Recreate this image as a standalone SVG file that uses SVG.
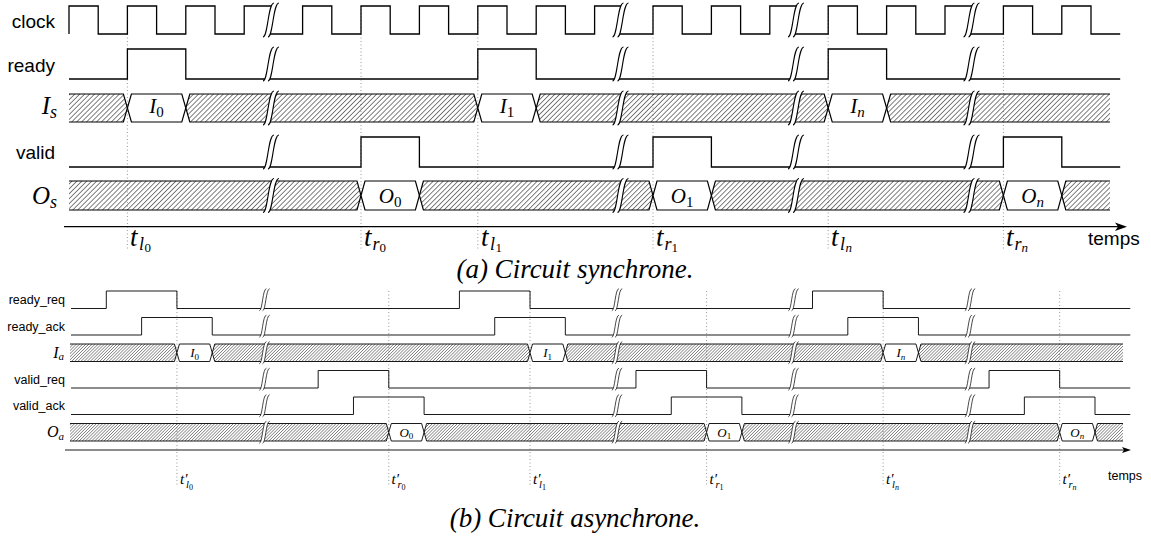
<svg xmlns="http://www.w3.org/2000/svg" xmlns:xlink="http://www.w3.org/1999/xlink" width="1151" height="545" viewBox="0 0 1151 545">
<defs>
<style>
.sig{fill:none;stroke:#000;stroke-width:1.3}
.sigb{fill:none;stroke:#000;stroke-width:0.9}
.hA{fill:url(#hatA);stroke:#000;stroke-width:1.2}
.dA{fill:#fff;stroke:#000;stroke-width:1.2}
.hB{fill:url(#hatB);stroke:#000;stroke-width:0.9}
.dB{fill:#fff;stroke:#000;stroke-width:0.9}
.dot{stroke:#8c8c8c;stroke-width:0.9;stroke-dasharray:1 2.5;fill:none}
.ax{stroke:#000;fill:none}
.lbA{font-family:"Liberation Sans",Arial,sans-serif;font-size:19px}
.lbB{font-family:"Liberation Sans",Arial,sans-serif;font-size:12.5px}
.m{font-family:"Liberation Serif","DejaVu Serif",serif;font-style:italic}
.up{font-style:normal}
.rnA{font-size:25px}.rsA{font-size:18px}
.dlA{font-size:21px}.dsA{font-size:15px}
.tA{font-size:27px}.s1{font-size:18px}.s2{font-size:13px}
.rnB{font-size:16px}.rsB{font-size:11px}
.dlB{font-size:13px}.dsB{font-size:9px}
.tB{font-size:15px}.s1b{font-size:10.5px}.s2b{font-size:8px}
.cap{font-family:"Liberation Serif","Times New Roman",serif;font-style:italic;font-size:27px}
</style>
<pattern id="hatA" width="3.5" height="3.5" patternUnits="userSpaceOnUse" patternTransform="rotate(45)"><line x1="0" y1="0" x2="0" y2="3.5" stroke="#000" stroke-width="1"/></pattern>
<pattern id="hatB" width="2.2" height="2.2" patternUnits="userSpaceOnUse" patternTransform="rotate(45)"><line x1="0" y1="0" x2="0" y2="2.2" stroke="#000" stroke-width="0.75"/></pattern>
<g id="brk">
<path d="M-8,17 C-3,17 -3,-17 3,-17 L8,-17 C2,-17 2,17 -3,17 Z" fill="#fff"/>
<path d="M-8,17 C-3,17 -3,-17 3,-17 M-3,17 C2,17 2,-17 8,-17" fill="none" stroke="#000" stroke-width="1.1"/>
</g>
<marker id="arrA" markerWidth="14" markerHeight="10" refX="8" refY="5" orient="auto" markerUnits="userSpaceOnUse"><path d="M0,0.8 L12,5 L0,9.2 L3,5 Z" fill="#000"/></marker>
<marker id="arrB" markerWidth="10" markerHeight="7" refX="6" refY="3.5" orient="auto" markerUnits="userSpaceOnUse"><path d="M0,0.6 L9,3.5 L0,6.4 L2,3.5 Z" fill="#000"/></marker>
</defs>
<rect width="1151" height="545" fill="#fff"/>

<g id="connectors">
<g id="guidesA" class="dot">
<path d="M127.4,6V250M361,6V250M477.8,6V250M653,6V250M828.2,6V250M1003.4,6V250"/>
</g>
<g id="guidesB" class="dot">
<path d="M176.93,291V486M388.79,291V486M530.03,291V486M706.58,291V486M883.13,291V486M1059.68,291V486"/>
</g>
<g id="axisA"><path class="ax" stroke-width="1.3" d="M64,226.7H1123" marker-end="url(#arrA)"/></g>
<g id="axisB"><path class="ax" stroke-width="0.9" d="M65,450H1128" marker-end="url(#arrB)"/></g>
</g>

<!-- Part (a) -->
<g id="clock">
<text class="lbA" x="55" y="27.5" text-anchor="end">clock</text>
<path class="sig" d="M69,34V6H98.2V34H127.4V6H156.6V34H185.8V6H215V34H244.2V6H274M268,34H302.6V6H331.8V34H361V6H390.2V34H419.4V6H448.6V34H477.8V6H507V34H536.2V6H565.4V34H594.6V6H623.5M617.5,34H653V6H682.2V34H711.4V6H740.6V34H769.8V6H799M793,34H828.2V6H857.4V34H886.6V6H915.8V34H945V6H974.5M968.5,34H1003.4V6H1032.6V34H1061.8V6H1091V34H1120.2"/>
</g>
<g id="ready">
<text class="lbA" x="55" y="71.5" text-anchor="end">ready</text>
<path class="sig" d="M69,79H127.4V49H185.8V79H477.8V49H536.2V79H828.2V49H886.6V79H1120.2"/>
</g>
<g id="Is">
<text class="m rnA" x="57" y="114" text-anchor="end">I<tspan class="rsA" dy="4">s</tspan></text>
<path class="hA" d="M69,94H123.4L127.4,108L123.4,122H69"/>
<path class="dA" d="M127.4,108L131.4,94H181.8L185.8,108L181.8,122H131.4Z"/>
<path class="hA" d="M185.8,108L189.8,94H473.8L477.8,108L473.8,122H189.8Z"/>
<path class="dA" d="M477.8,108L481.8,94H532.2L536.2,108L532.2,122H481.8Z"/>
<path class="hA" d="M536.2,108L540.2,94H824.2L828.2,108L824.2,122H540.2Z"/>
<path class="dA" d="M828.2,108L832.2,94H882.6L886.6,108L882.6,122H832.2Z"/>
<path class="hA" d="M1110,94H890.6L886.6,108L890.6,122H1110"/>
<text class="m dlA" x="156.6" y="113" text-anchor="middle">I<tspan class="dsA up" dy="4">0</tspan></text>
<text class="m dlA" x="507" y="113" text-anchor="middle">I<tspan class="dsA up" dy="4">1</tspan></text>
<text class="m dlA" x="857.4" y="113" text-anchor="middle">I<tspan class="dsA" dy="4">n</tspan></text>
</g>
<g id="valid">
<text class="lbA" x="55" y="159" text-anchor="end">valid</text>
<path class="sig" d="M69,167H361V137H419.4V167H653V137H711.4V167H1003.4V137H1061.8V167H1120.2"/>
</g>
<g id="Os">
<text class="m rnA" x="57" y="204" text-anchor="end">O<tspan class="rsA" dy="4">s</tspan></text>
<path class="hA" d="M69,181H357L361,195.5L357,210H69"/>
<path class="dA" d="M361,195.5L365,181H415.4L419.4,195.5L415.4,210H365Z"/>
<path class="hA" d="M419.4,195.5L423.4,181H649L653,195.5L649,210H423.4Z"/>
<path class="dA" d="M653,195.5L657,181H707.4L711.4,195.5L707.4,210H657Z"/>
<path class="hA" d="M711.4,195.5L715.4,181H999.4L1003.4,195.5L999.4,210H715.4Z"/>
<path class="dA" d="M1003.4,195.5L1007.4,181H1057.8L1061.8,195.5L1057.8,210H1007.4Z"/>
<path class="hA" d="M1110,181H1065.8L1061.8,195.5L1065.8,210H1110"/>
<text class="m dlA" x="390.2" y="203" text-anchor="middle">O<tspan class="dsA up" dy="4">0</tspan></text>
<text class="m dlA" x="682.2" y="203" text-anchor="middle">O<tspan class="dsA up" dy="4">1</tspan></text>
<text class="m dlA" x="1032.6" y="203" text-anchor="middle">O<tspan class="dsA" dy="4">n</tspan></text>
</g>
<g id="breaksA">
<use xlink:href="#brk" transform="translate(271,20)"/><use xlink:href="#brk" transform="translate(271,64)"/><use xlink:href="#brk" transform="translate(271,108)"/><use xlink:href="#brk" transform="translate(271,152)"/><use xlink:href="#brk" transform="translate(271,195.5)"/>
<use xlink:href="#brk" transform="translate(620.5,20)"/><use xlink:href="#brk" transform="translate(620.5,64)"/><use xlink:href="#brk" transform="translate(620.5,108)"/><use xlink:href="#brk" transform="translate(620.5,152)"/><use xlink:href="#brk" transform="translate(620.5,195.5)"/>
<use xlink:href="#brk" transform="translate(796,20)"/><use xlink:href="#brk" transform="translate(796,64)"/><use xlink:href="#brk" transform="translate(796,108)"/><use xlink:href="#brk" transform="translate(796,152)"/><use xlink:href="#brk" transform="translate(796,195.5)"/>
<use xlink:href="#brk" transform="translate(971.5,20)"/><use xlink:href="#brk" transform="translate(971.5,64)"/><use xlink:href="#brk" transform="translate(971.5,108)"/><use xlink:href="#brk" transform="translate(971.5,152)"/><use xlink:href="#brk" transform="translate(971.5,195.5)"/>
</g>
<g id="timesA">
<text class="m tA" x="130" y="246">t<tspan class="s1" dx="1.5" dy="3.5">l</tspan><tspan class="s2 up" dx="0.5" dy="2.5">0</tspan></text>
<text class="m tA" x="364" y="246">t<tspan class="s1" dx="1" dy="3.5">r</tspan><tspan class="s2 up" dy="2.5">0</tspan></text>
<text class="m tA" x="481" y="246">t<tspan class="s1" dx="1.5" dy="3.5">l</tspan><tspan class="s2 up" dx="0.5" dy="2.5">1</tspan></text>
<text class="m tA" x="656" y="246">t<tspan class="s1" dx="1" dy="3.5">r</tspan><tspan class="s2 up" dy="2.5">1</tspan></text>
<text class="m tA" x="831" y="246">t<tspan class="s1" dx="1.5" dy="3.5">l</tspan><tspan class="s2" dx="0.5" dy="2.5">n</tspan></text>
<text class="m tA" x="1006" y="246">t<tspan class="s1" dx="1" dy="3.5">r</tspan><tspan class="s2" dy="2.5">n</tspan></text>
<text class="lbA" x="1088" y="245">temps</text>
</g>
<text class="cap" x="575" y="278" text-anchor="middle">(a) Circuit synchrone.</text>

<!-- Part (b) -->
<g id="ready_req">
<text class="lbB" x="65" y="304.3" text-anchor="end">ready_req</text>
<path class="sigb" d="M71,308.5H106.31V291H176.93V308.5H459.41V291H530.03V308.5H812.51V291H883.13V308.5H1130.3"/>
</g>
<g id="ready_ack">
<text class="lbB" x="65" y="330.8" text-anchor="end">ready_ack</text>
<path class="sigb" d="M71,335H141.62V317.5H212.24V335H494.72V317.5H565.34V335H847.82V317.5H918.44V335H1130.3"/>
</g>
<g id="Ia">
<text class="m rnB" x="64" y="357.8" text-anchor="end">I<tspan class="rsB" dy="2.5">a</tspan></text>
<path class="hB" d="M70,344H174.43L176.93,352.75L174.43,361.5H70"/>
<path class="dB" d="M176.93,352.75L179.43,344H209.74L212.24,352.75L209.74,361.5H179.43Z"/>
<path class="hB" d="M212.24,352.75L214.74,344H527.53L530.03,352.75L527.53,361.5H214.74Z"/>
<path class="dB" d="M530.03,352.75L532.53,344H562.84L565.34,352.75L562.84,361.5H532.53Z"/>
<path class="hB" d="M565.34,352.75L567.84,344H880.63L883.13,352.75L880.63,361.5H567.84Z"/>
<path class="dB" d="M883.13,352.75L885.63,344H915.94L918.44,352.75L915.94,361.5H885.63Z"/>
<path class="hB" d="M1123,344H920.94L918.44,352.75L920.94,361.5H1123"/>
<text class="m dlB" x="194.6" y="357" text-anchor="middle">I<tspan class="dsB up" dy="2.5">0</tspan></text>
<text class="m dlB" x="547.7" y="357" text-anchor="middle">I<tspan class="dsB up" dy="2.5">1</tspan></text>
<text class="m dlB" x="900.8" y="357" text-anchor="middle">I<tspan class="dsB" dy="2.5">n</tspan></text>
</g>
<g id="valid_req">
<text class="lbB" x="65" y="383.8" text-anchor="end">valid_req</text>
<path class="sigb" d="M71,388H318.17V370.5H388.79V388H635.96V370.5H706.58V388H989.06V370.5H1059.68V388H1130.3"/>
</g>
<g id="valid_ack">
<text class="lbB" x="65" y="410.3" text-anchor="end">valid_ack</text>
<path class="sigb" d="M71,414.5H353.48V397H424.1V414.5H671.27V397H741.89V414.5H1024.37V397H1094.99V414.5H1130.3"/>
</g>
<g id="Oa">
<text class="m rnB" x="64" y="437.3" text-anchor="end">O<tspan class="rsB" dy="2.5">a</tspan></text>
<path class="hB" d="M70,423.5H386.29L388.79,432.25L386.29,441H70"/>
<path class="dB" d="M388.79,432.25L391.29,423.5H421.6L424.1,432.25L421.6,441H391.29Z"/>
<path class="hB" d="M424.1,432.25L426.6,423.5H704.08L706.58,432.25L704.08,441H426.6Z"/>
<path class="dB" d="M706.58,432.25L709.08,423.5H739.39L741.89,432.25L739.39,441H709.08Z"/>
<path class="hB" d="M741.89,432.25L744.39,423.5H1057.18L1059.68,432.25L1057.18,441H744.39Z"/>
<path class="dB" d="M1059.68,432.25L1062.18,423.5H1092.49L1094.99,432.25L1092.49,441H1062.18Z"/>
<path class="hB" d="M1123,423.5H1097.49L1094.99,432.25L1097.49,441H1123"/>
<text class="m dlB" x="406.4" y="436.5" text-anchor="middle">O<tspan class="dsB up" dy="2.5">0</tspan></text>
<text class="m dlB" x="724.2" y="436.5" text-anchor="middle">O<tspan class="dsB up" dy="2.5">1</tspan></text>
<text class="m dlB" x="1077.3" y="436.5" text-anchor="middle">O<tspan class="dsB" dy="2.5">n</tspan></text>
</g>
<g id="breaksB">
<use xlink:href="#brk" transform="translate(264.5,299.75) scale(0.65)"/><use xlink:href="#brk" transform="translate(264.5,326.25) scale(0.65)"/><use xlink:href="#brk" transform="translate(264.5,352.75) scale(0.65)"/><use xlink:href="#brk" transform="translate(264.5,379.25) scale(0.65)"/><use xlink:href="#brk" transform="translate(264.5,405.75) scale(0.65)"/><use xlink:href="#brk" transform="translate(264.5,432.25) scale(0.65)"/>
<use xlink:href="#brk" transform="translate(617,299.75) scale(0.65)"/><use xlink:href="#brk" transform="translate(617,326.25) scale(0.65)"/><use xlink:href="#brk" transform="translate(617,352.75) scale(0.65)"/><use xlink:href="#brk" transform="translate(617,379.25) scale(0.65)"/><use xlink:href="#brk" transform="translate(617,405.75) scale(0.65)"/><use xlink:href="#brk" transform="translate(617,432.25) scale(0.65)"/>
<use xlink:href="#brk" transform="translate(793.5,299.75) scale(0.65)"/><use xlink:href="#brk" transform="translate(793.5,326.25) scale(0.65)"/><use xlink:href="#brk" transform="translate(793.5,352.75) scale(0.65)"/><use xlink:href="#brk" transform="translate(793.5,379.25) scale(0.65)"/><use xlink:href="#brk" transform="translate(793.5,405.75) scale(0.65)"/><use xlink:href="#brk" transform="translate(793.5,432.25) scale(0.65)"/>
<use xlink:href="#brk" transform="translate(970,299.75) scale(0.65)"/><use xlink:href="#brk" transform="translate(970,326.25) scale(0.65)"/><use xlink:href="#brk" transform="translate(970,352.75) scale(0.65)"/><use xlink:href="#brk" transform="translate(970,379.25) scale(0.65)"/><use xlink:href="#brk" transform="translate(970,405.75) scale(0.65)"/><use xlink:href="#brk" transform="translate(970,432.25) scale(0.65)"/>
</g>
<g id="timesB">
<text class="m tB" x="180" y="484">t<tspan>′</tspan><tspan class="s1b" dx="-1.5" dy="3.5">l</tspan><tspan class="s2b up" dy="2">0</tspan></text>
<text class="m tB" x="391.5" y="484">t<tspan>′</tspan><tspan class="s1b" dx="-1.5" dy="3.5">r</tspan><tspan class="s2b up" dy="2">0</tspan></text>
<text class="m tB" x="533" y="484">t<tspan>′</tspan><tspan class="s1b" dx="-1.5" dy="3.5">l</tspan><tspan class="s2b up" dy="2">1</tspan></text>
<text class="m tB" x="709.5" y="484">t<tspan>′</tspan><tspan class="s1b" dx="-1.5" dy="3.5">r</tspan><tspan class="s2b up" dy="2">1</tspan></text>
<text class="m tB" x="886" y="484">t<tspan>′</tspan><tspan class="s1b" dx="-1.5" dy="3.5">l</tspan><tspan class="s2b" dy="2">n</tspan></text>
<text class="m tB" x="1062.5" y="484">t<tspan>′</tspan><tspan class="s1b" dx="-1.5" dy="3.5">r</tspan><tspan class="s2b" dy="2">n</tspan></text>
<text class="lbB" x="1108" y="480">temps</text>
</g>
<text class="cap" x="575" y="527" text-anchor="middle">(b) Circuit asynchrone.</text>
</svg>
